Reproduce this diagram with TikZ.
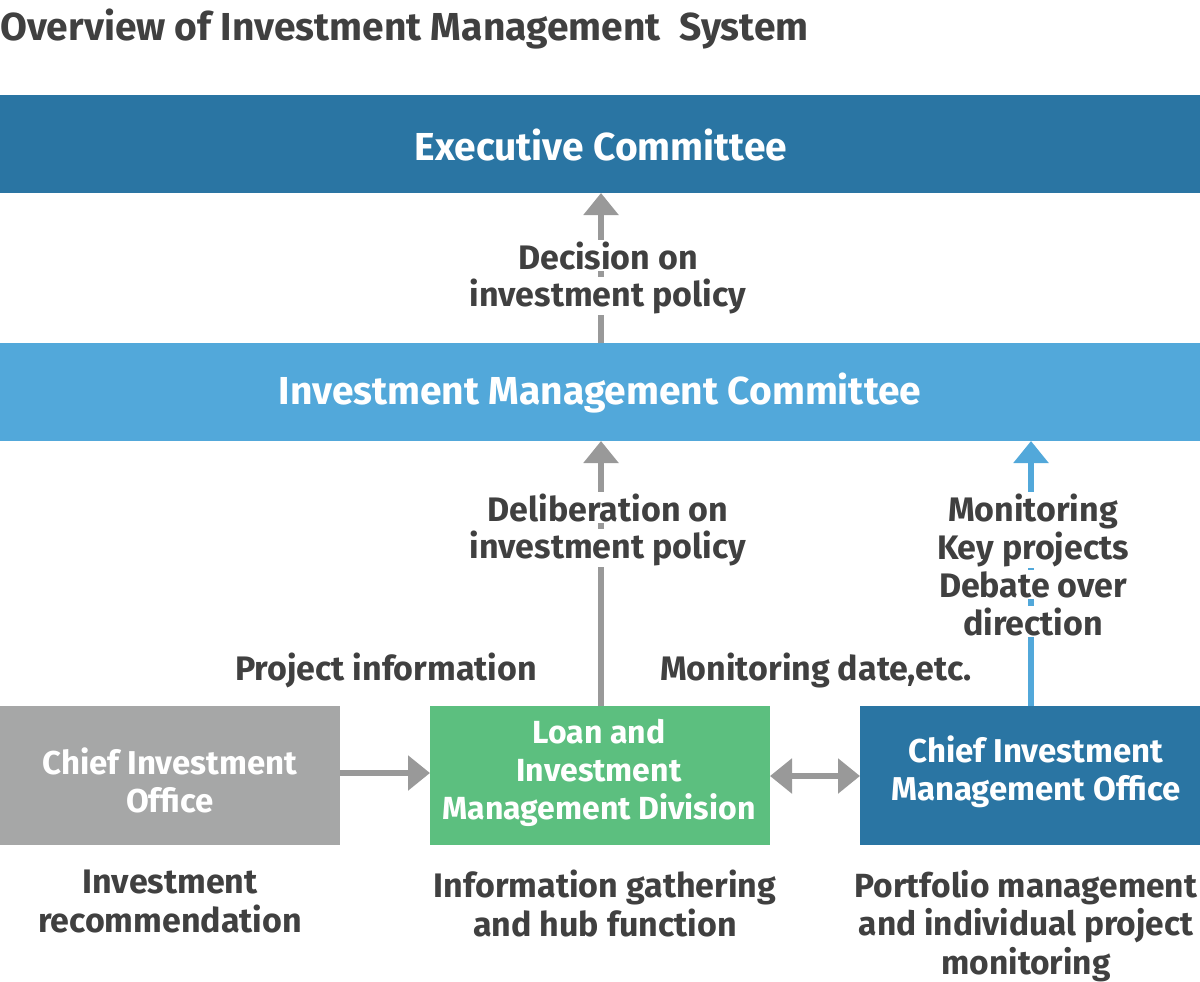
\documentclass[tikz,border=0pt]{standalone}
\usepackage{fontspec}
\setmainfont{Fira Sans}
\usetikzlibrary{arrows.meta}
\definecolor{execblue}{HTML}{2A75A3}
\definecolor{imcblue}{HTML}{52A8DA}
\definecolor{boxgray}{HTML}{A6A7A7}
\definecolor{boxgreen}{HTML}{5CBF7F}
\definecolor{arrowgray}{HTML}{999999}
\definecolor{txt}{HTML}{404040}
\tikzset{
  bar/.style={fill=#1,draw=none},
  bartext/.style={text=white,font=\bfseries\fontsize{39}{44}\selectfont},
  boxtext/.style={text=white,font=\bfseries\fontsize{33}{38}\selectfont,align=center},
  lbl/.style={text=txt,font=\bfseries\fontsize{34}{38.5}\selectfont,align=center,inner sep=0pt},
  lblw/.style={lbl,fill=white,inner xsep=3pt,inner ysep=1pt},
  garrow/.style={draw=arrowgray,line width=6pt,-{Triangle[width=34pt,length=22pt]}},
  barrow/.style={draw=imcblue,line width=6pt,-{Triangle[width=34pt,length=22pt]}},
  darrow/.style={draw=arrowgray,line width=6pt,{Triangle[width=34pt,length=22pt]}-{Triangle[width=34pt,length=22pt]}},
}
\begin{document}
\begin{tikzpicture}[x=1pt,y=-1pt]
\useasboundingbox (0,0) rectangle (1200,982);
% title
\node[anchor=base west,inner sep=0pt,text=txt,font=\bfseries\fontsize{39}{44}\selectfont] (title) at (0,41) {Overview of Investment Management\ \ System};
% bars
\path[bar=execblue] (0,95) rectangle (1200,193);
\node[bartext] (exec) at (601,145) {Executive Committee};
\coordinate (execbot) at (601,193);
\path[bar=imcblue] (0,343) rectangle (1200,441);
\node[bartext] (imc) at (600,393) {Investment Management Committee};
\coordinate (imctop) at (601,343);
\coordinate (imcbotm) at (601,441);
\coordinate (imcbotr) at (1031,441);
% boxes
\path[bar=boxgray] (0,706) rectangle (340,845);
\path[bar=boxgreen] (430,706) rectangle (770,845);
\path[bar=execblue] (860,706) rectangle (1200,845);
\node[boxtext] (cio) at (170,780) {Chief Investment\\Office};
\node[boxtext,font=\bfseries\fontsize{32}{38}\selectfont] (limd) at (599,773) {Loan and\\Investment\\Management Division};
\node[boxtext] (cimo) at (1036,772) {Chief Investment\\Management Office};
\coordinate (cior) at (340,773);
\coordinate (limdl) at (430,773);
\coordinate (limdr) at (770,776);
\coordinate (limdt) at (601,706);
\coordinate (cimol) at (860,776);
\coordinate (cimot) at (1031,706);
% arrows
\draw[garrow] (imctop) -- (execbot);
\draw[garrow] (limdt) -- (imcbotm);
\draw[barrow] (cimot) -- (imcbotr);
\draw[garrow] (cior) -- (limdl);
\draw[darrow] (limdr) -- (cimol);
% labels
\node[lblw,anchor=base] (dec1) at (608,269) {Decision on};
\node[lblw,anchor=base] (dec2) at (608,306) {investment policy};
\node[lblw,anchor=base] (del1) at (608,521) {Deliberation on};
\node[lblw,anchor=base] (del2) at (608,558) {investment policy};
\node[lblw,anchor=base] (mon1) at (1033,521) {Monitoring};
\node[lblw,anchor=base] (mon2) at (1033,559) {Key projects};
\node[lblw,anchor=base] (mon3) at (1033,597) {Debate over};
\node[lblw,anchor=base] (mon4) at (1033,635) {direction};
\node[lbl,anchor=base] (proj) at (386,680) {Project information};
\node[lbl,anchor=base] (mond) at (816,680) {Monitoring date,etc.};
\node[lbl,anchor=north] (rec) at (170,870) {Investment\\recommendation};
\node[lbl,anchor=north] (info) at (605,870) {Information gathering\\and hub function};
\node[lbl,anchor=north,font=\bfseries\fontsize{33.5}{38.5}\selectfont] (port) at (1026,870) {Portfolio management\\and individual project\\monitoring};
\end{tikzpicture}
\end{document}
